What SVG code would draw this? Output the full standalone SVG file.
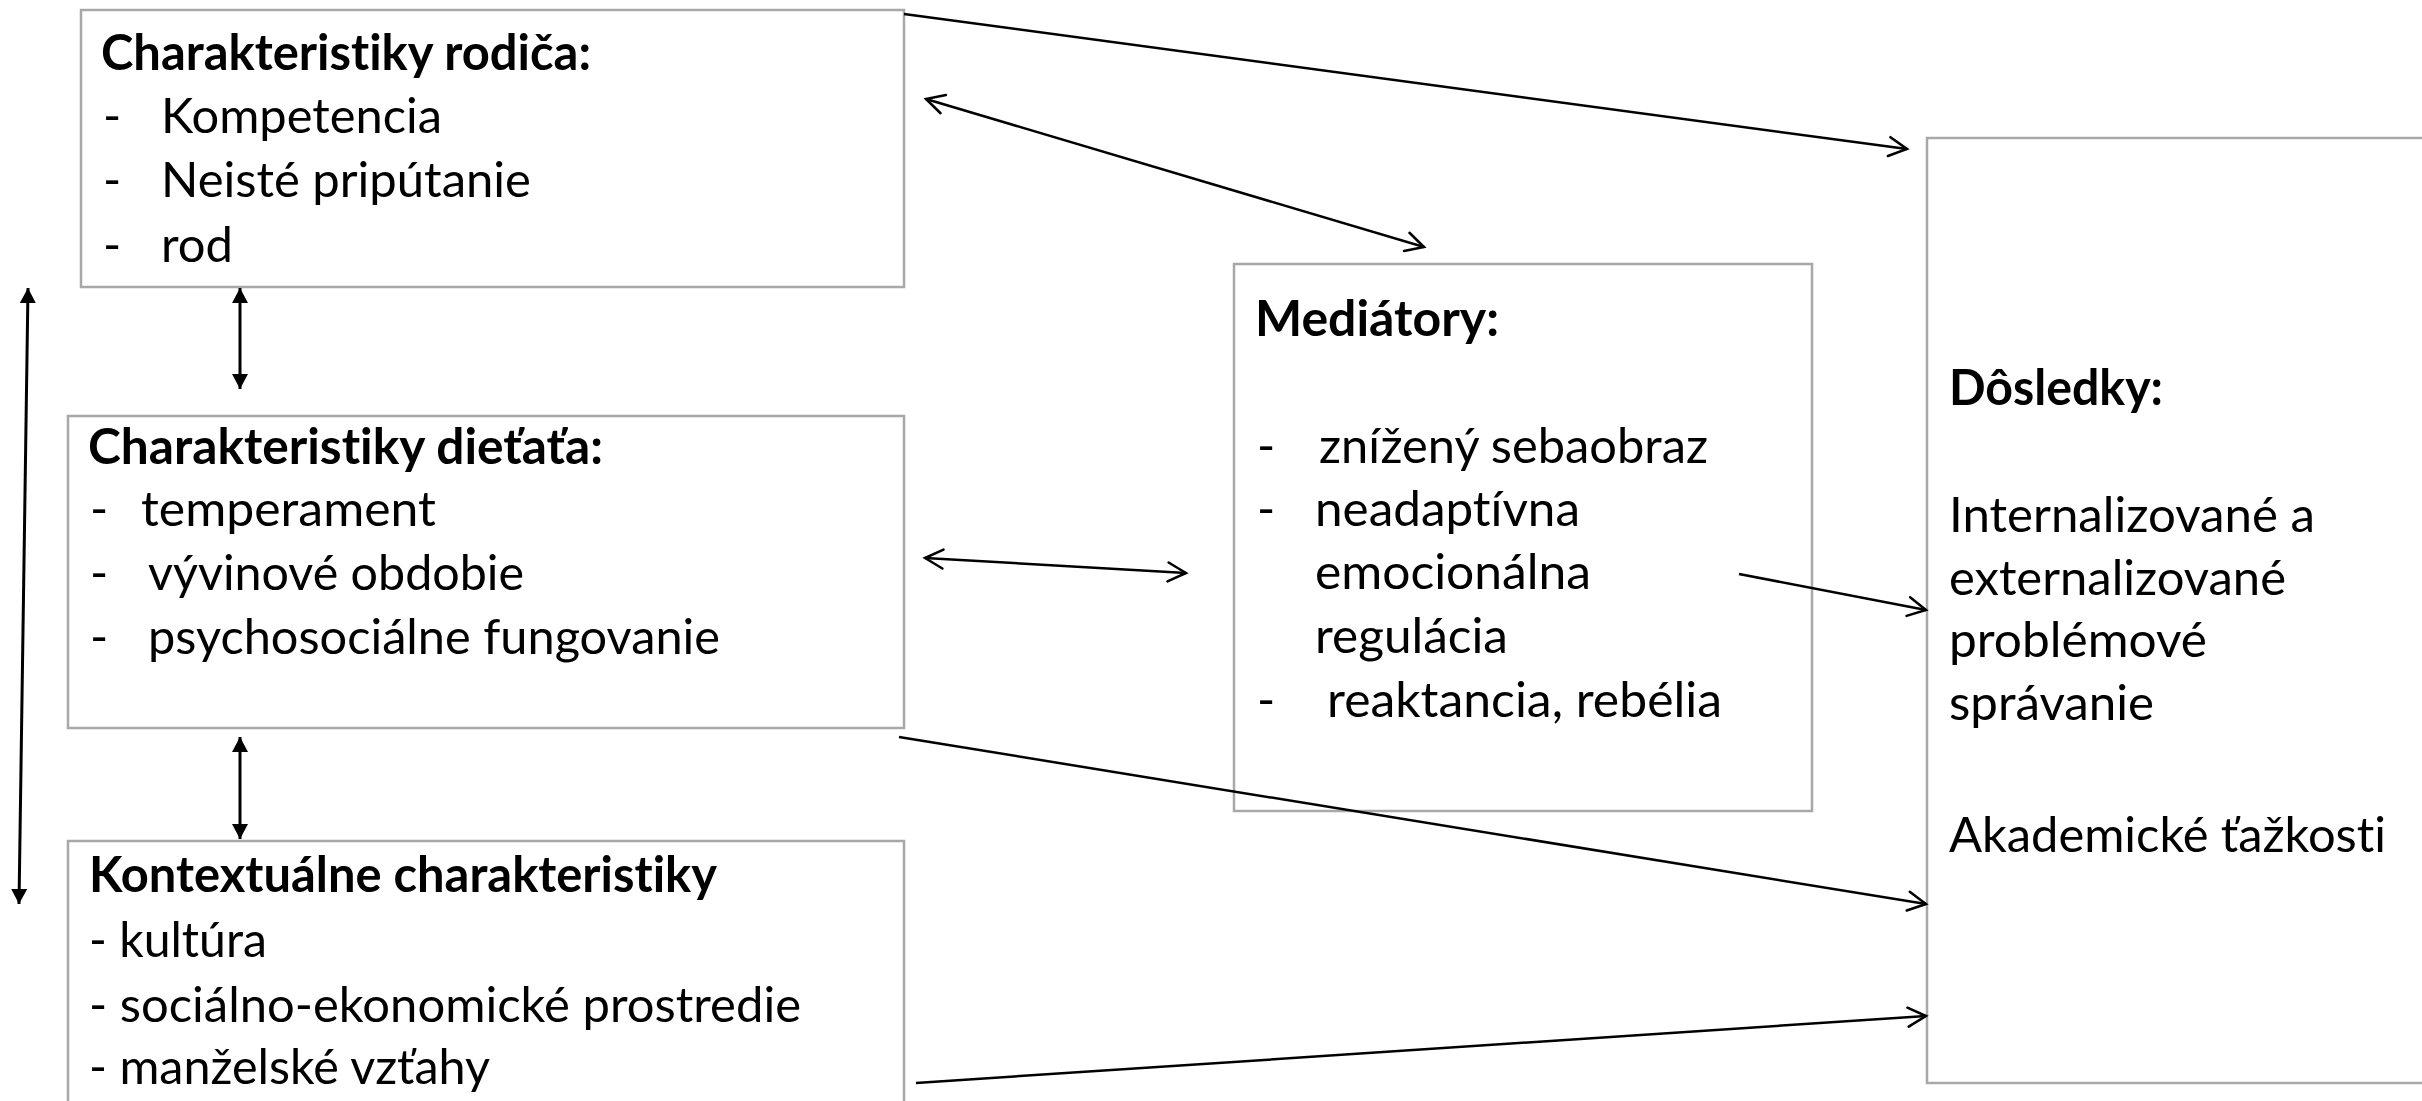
<svg xmlns="http://www.w3.org/2000/svg" width="2422" height="1101" viewBox="0 0 2422 1101">
<style>
  .box { fill: #ffffff; stroke: #a8a8a8; stroke-width: 2.5; }
  text { font-family: Lato, "Open Sans", "Liberation Sans", sans-serif; font-size: 49px; fill: #000000; font-variant-ligatures: none; font-feature-settings: "liga" 0, "clig" 0; }
  .b { font-weight: 700; }
  .conn line { stroke: #000000; stroke-width: 2.5; fill: none; }
  .conn line.v { stroke-width: 3; }
</style>
<defs>
  <marker id="open" markerUnits="userSpaceOnUse" viewBox="-21 -11 23 22" markerWidth="23" markerHeight="22" refX="0" refY="0" orient="auto-start-reverse" overflow="visible">
    <path d="M-18,-9.5 L0,0 L-18,9.5" fill="none" stroke="#000" stroke-width="2.5" stroke-linecap="round" stroke-linejoin="miter"/>
  </marker>
  <marker id="solid" markerUnits="userSpaceOnUse" viewBox="-16 -9 17 18" markerWidth="17" markerHeight="18" refX="0" refY="0" orient="auto-start-reverse" overflow="visible">
    <path d="M-15,-8 L0,0 L-15,8 Z" fill="#000" stroke="none"/>
  </marker>
</defs>
<rect width="2422" height="1101" fill="#ffffff"/>

<g id="rodic">
  <rect class="box" x="81" y="10" width="823" height="277"/>
  <text class="b" x="101" y="70" textLength="490" lengthAdjust="spacingAndGlyphs">Charakteristiky rodiča:</text>
  <text x="103" y="133">-</text>
  <text x="161" y="133" textLength="281" lengthAdjust="spacingAndGlyphs">Kompetencia</text>
  <text x="103" y="197">-</text>
  <text x="161" y="197" textLength="370" lengthAdjust="spacingAndGlyphs">Neisté pripútanie</text>
  <text x="103" y="262">-</text>
  <text x="161" y="262" textLength="72" lengthAdjust="spacingAndGlyphs">rod</text>
</g>

<g id="dieta">
  <rect class="box" x="68" y="416" width="836" height="312"/>
  <text class="b" x="88" y="464" textLength="515" lengthAdjust="spacingAndGlyphs">Charakteristiky dieťaťa:</text>
  <text x="90" y="526">-</text>
  <text x="141" y="526" textLength="295" lengthAdjust="spacingAndGlyphs">temperament</text>
  <text x="90" y="590">-</text>
  <text x="148" y="590" textLength="376" lengthAdjust="spacingAndGlyphs">vývinové obdobie</text>
  <text x="90" y="654">-</text>
  <text x="148" y="654" textLength="572" lengthAdjust="spacingAndGlyphs">psychosociálne fungovanie</text>
</g>

<g id="kontext">
  <rect class="box" x="68" y="841" width="836" height="290"/>
  <text class="b" x="89" y="892" textLength="628" lengthAdjust="spacingAndGlyphs">Kontextuálne charakteristiky</text>
  <text x="89" y="957" textLength="178" lengthAdjust="spacingAndGlyphs">- kultúra</text>
  <text x="89" y="1022" textLength="712" lengthAdjust="spacingAndGlyphs">- sociálno-ekonomické prostredie</text>
  <text x="89" y="1084" textLength="401" lengthAdjust="spacingAndGlyphs">- manželské vzťahy</text>
</g>

<g id="mediatory">
  <rect class="box" x="1234" y="264" width="578" height="547"/>
  <text class="b" x="1255" y="336" textLength="244" lengthAdjust="spacingAndGlyphs">Mediátory:</text>
  <text x="1257" y="463">-</text>
  <text x="1319" y="463" textLength="389" lengthAdjust="spacingAndGlyphs">znížený sebaobraz</text>
  <text x="1257" y="526">-</text>
  <text x="1315" y="526" textLength="265" lengthAdjust="spacingAndGlyphs">neadaptívna</text>
  <text x="1315" y="589" textLength="276" lengthAdjust="spacingAndGlyphs">emocionálna</text>
  <text x="1315" y="653" textLength="193" lengthAdjust="spacingAndGlyphs">regulácia</text>
  <text x="1257" y="717">-</text>
  <text x="1327" y="717" textLength="395" lengthAdjust="spacingAndGlyphs">reaktancia, rebélia</text>
</g>

<g id="dosledky">
  <rect class="box" x="1927" y="138" width="520" height="945"/>
  <text class="b" x="1949" y="405" textLength="214" lengthAdjust="spacingAndGlyphs">Dôsledky:</text>
  <text x="1949" y="532" textLength="366" lengthAdjust="spacingAndGlyphs">Internalizované a</text>
  <text x="1949" y="595" textLength="337" lengthAdjust="spacingAndGlyphs">externalizované</text>
  <text x="1949" y="657" textLength="258" lengthAdjust="spacingAndGlyphs">problémové</text>
  <text x="1949" y="720" textLength="205" lengthAdjust="spacingAndGlyphs">správanie</text>
  <text x="1949" y="852" textLength="437" lengthAdjust="spacingAndGlyphs">Akademické ťažkosti</text>
</g>

<g id="connectors" class="conn">
  <line x1="904" y1="14" x2="1907" y2="149" marker-end="url(#open)"/>
  <line x1="926" y1="99" x2="1424" y2="247" marker-start="url(#open)" marker-end="url(#open)"/>
  <line class="v" x1="240" y1="288" x2="240" y2="389" marker-start="url(#solid)" marker-end="url(#solid)"/>
  <line class="v" x1="28" y1="288" x2="19" y2="904" marker-start="url(#solid)" marker-end="url(#solid)"/>
  <line x1="925" y1="558" x2="1186" y2="573" marker-start="url(#open)" marker-end="url(#open)"/>
  <line class="v" x1="240" y1="737" x2="240" y2="839" marker-start="url(#solid)" marker-end="url(#solid)"/>
  <line x1="1739" y1="574" x2="1926" y2="610" marker-end="url(#open)"/>
  <line x1="899" y1="737" x2="1926" y2="904" marker-end="url(#open)"/>
  <line x1="916" y1="1083" x2="1926" y2="1016" marker-end="url(#open)"/>
</g>
</svg>
